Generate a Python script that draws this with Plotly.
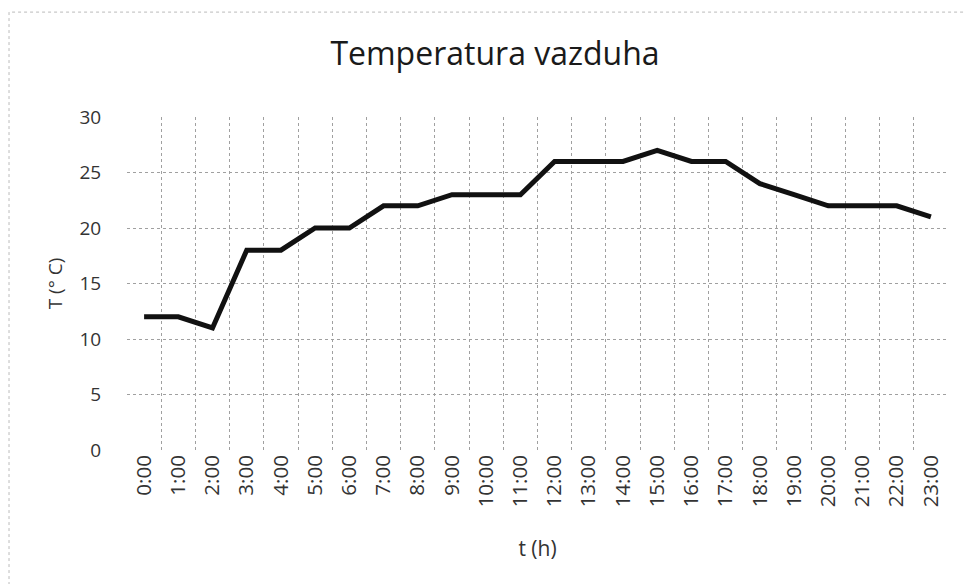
import plotly.graph_objects as go

hours = ["0:00", "1:00", "2:00", "3:00", "4:00", "5:00", "6:00", "7:00", "8:00", "9:00",
         "10:00", "11:00", "12:00", "13:00", "14:00", "15:00", "16:00", "17:00", "18:00",
         "19:00", "20:00", "21:00", "22:00", "23:00"]
temps = [12, 12, 11, 18, 18, 20, 20, 22, 22, 23, 23, 23, 26, 26, 26, 27, 26, 26, 24, 23, 22, 22, 22, 21]

fig = go.Figure()
fig.add_trace(go.Scatter(x=hours, y=temps, mode="lines",
                         line=dict(color="#111111", width=5)))

grid = dict(showgrid=True, gridcolor="#a0a0a0", griddash="dot", gridwidth=1)

fig.update_layout(
    width=972, height=584,
    margin=dict(l=119, r=32, t=109, b=142),
    paper_bgcolor="white", plot_bgcolor="white",
    font=dict(family="Open Sans, Lato, sans-serif", color="#333333"),
    showlegend=False,
    title=dict(text="Temperatura vazduha", x=487 / 972, xanchor="center", xref="container",
               y=1 - 46 / 584, yanchor="middle",
               font=dict(size=32, color="#1a1a1a")),
    xaxis=dict(type="category", range=[-0.5, len(hours) - 0.5], tickangle=-90,
               tickson="boundaries",
               ticks="outside", ticklen=20, tickcolor="rgba(0,0,0,0)",
               tickfont=dict(size=20.5), zeroline=False,
               title=dict(text="t (h)", font=dict(size=21), standoff=34),
               **grid),
    yaxis=dict(range=[0, 30], dtick=5, tickfont=dict(size=19),
               ticks="outside", ticklen=21, tickcolor="rgba(0,0,0,0)", zeroline=False,
               title=dict(text="T (° C)", font=dict(size=19), standoff=11),
               **grid),
)
fig.add_shape(type="rect", xref="paper", yref="paper", x0=-0.1437, x1=1.2, y0=-0.6, y1=1.315,
              line=dict(color="#bbbbbb", width=1, dash="dot"))

fig.write_html("out.html")
